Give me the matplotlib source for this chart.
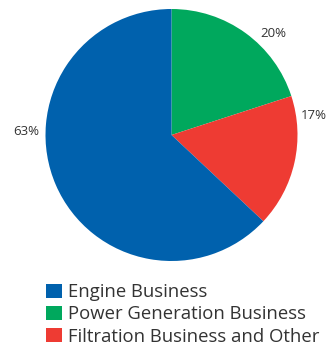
import numpy as np
import matplotlib
matplotlib.use("Agg")
import matplotlib.pyplot as plt
from matplotlib.patches import Patch

segments = ["Power Generation Business", "Filtration Business and Other", "Engine Business"]
shares = [20, 17, 63]
legend_order = ["Engine Business", "Power Generation Business", "Filtration Business and Other"]

colors = {
    "Engine Business": "#0061AD",
    "Power Generation Business": "#00A85D",
    "Filtration Business and Other": "#EE3B33",
}
# where each percentage sits around the pie (degrees, radius units)
label_angle = [45, 8.0, 178.5]
label_radius = [1.14, 1.14, 1.15]

plt.rcParams["font.family"] = ["Open Sans", "DejaVu Sans"]

W, H = 327, 349
fig = plt.figure(figsize=(W / 100, H / 100), dpi=100)
ax = fig.add_axes([45.5 / W, (H - 261) / H, 252 / W, 252 / H])

wedges, _ = ax.pie(
    shares,
    colors=[colors[s] for s in segments],
    startangle=90,
    counterclock=False,
    radius=1.0,
    wedgeprops=dict(linewidth=0),
)
ax.set_xlim(-1, 1)
ax.set_ylim(-1, 1)
ax.set_aspect("equal")
ax.axis("off")

for v, a, r in zip(shares, label_angle, label_radius):
    t = np.deg2rad(a)
    ax.text(r * np.cos(t), r * np.sin(t), f"{v}%", ha="center", va="center",
            fontsize=9.5, color="#333333", clip_on=False)

handles = [Patch(facecolor=colors[s], edgecolor="none") for s in legend_order]
fig.legend(handles, legend_order, loc="upper left",
           bbox_to_anchor=(39 / W, (H - 276) / H), frameon=False,
           fontsize=13.3, handlelength=0.85, handleheight=0.85,
           handletextpad=0.3, labelspacing=0.22, borderaxespad=0,
           labelcolor="#333333")

fig.savefig("out.png", dpi=100)
